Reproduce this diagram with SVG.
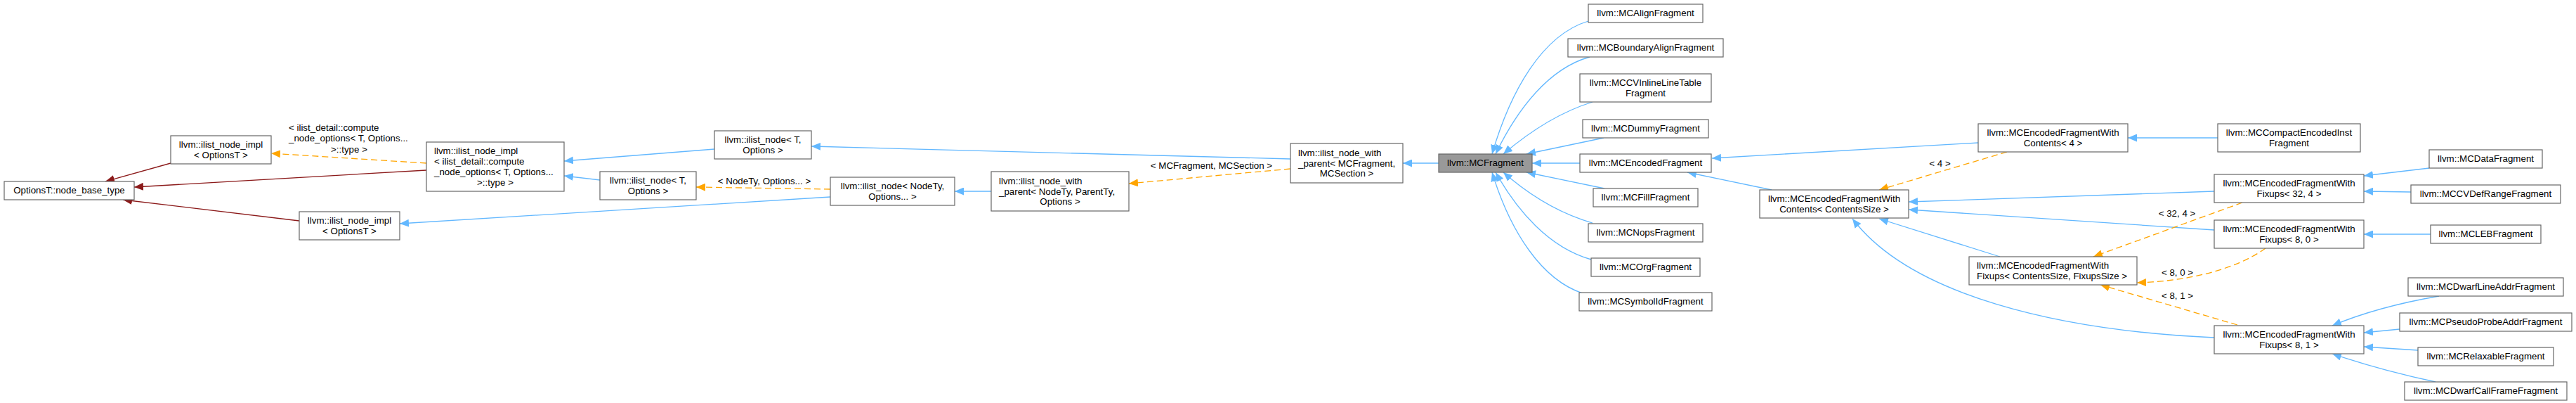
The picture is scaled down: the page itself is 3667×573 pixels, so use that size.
<svg xmlns="http://www.w3.org/2000/svg" width="3667" height="573" viewBox="0 0 3667 573">
<style>
  text { font-family: "Liberation Sans", Arial, Helvetica, sans-serif; font-size: 13.33px; fill: #000; }
  .c { text-anchor: middle; }
  .node rect { fill: #ffffff; stroke: #666666; stroke-width: 1.2; }
  .hl rect { fill: #999999; stroke: #666666; stroke-width: 1.2; }
  .e { fill: none; stroke-width: 1.3; }
  .pub { stroke: #63b8ff; marker-end: url(#mb); }
  .tpl { stroke: #ffa500; stroke-dasharray: 9,5; marker-end: url(#mo); }
  .prv { stroke: #8b1a1a; marker-end: url(#mr); }
</style>
<defs>
  <marker id="mb" viewBox="0 0 13 11" refX="13" refY="5.5" markerWidth="13" markerHeight="11" orient="auto" markerUnits="userSpaceOnUse"><path d="M0,0 L13,5.5 L0,11 z" fill="#63b8ff"/></marker>
  <marker id="mo" viewBox="0 0 13 11" refX="13" refY="5.5" markerWidth="13" markerHeight="11" orient="auto" markerUnits="userSpaceOnUse"><path d="M0,0 L13,5.5 L0,11 z" fill="#ffa500"/></marker>
  <marker id="mr" viewBox="0 0 13 11" refX="13" refY="5.5" markerWidth="13" markerHeight="11" orient="auto" markerUnits="userSpaceOnUse"><path d="M0,0 L13,5.5 L0,11 z" fill="#8b1a1a"/></marker>
</defs>
<rect x="0" y="0" width="3667" height="573" fill="#ffffff"/>

<g id="connectors">
  <path class="e prv" d="M243,232 L150,258"/>
  <path class="e prv" d="M607,242 L191,266"/>
  <path class="e prv" d="M426,314 L175,284"/>
  <path class="e tpl" d="M607,232 L386,218"/>
  <path class="e pub" d="M1017,212 L803,229"/>
  <path class="e pub" d="M854,256 L803,250"/>
  <path class="e tpl" d="M1182,269 L991,266"/>
  <path class="e pub" d="M1182,280 L569,318"/>
  <path class="e pub" d="M1411,272 L1359,272"/>
  <path class="e pub" d="M1837,226 L1155,208"/>
  <path class="e tpl" d="M1837,240 L1607,261"/>
  <path class="e pub" d="M2048,232 L1997,232"/>

  <path class="e pub" d="M2261,30 C2195,50 2150,130 2124,219"/>
  <path class="e pub" d="M2263,81 C2205,97 2160,155 2129,219"/>
  <path class="e pub" d="M2267,145 C2225,158 2180,185 2140,219"/>
  <path class="e pub" d="M2283,196 L2173,219"/>
  <path class="e pub" d="M2249,232 L2181,232"/>
  <path class="e pub" d="M2284,268 L2173,245"/>
  <path class="e pub" d="M2267,317 C2225,305 2180,280 2140,245"/>
  <path class="e pub" d="M2265,369 C2205,352 2160,300 2129,245"/>
  <path class="e pub" d="M2253,417 C2195,398 2150,330 2124,245"/>

  <path class="e pub" d="M2816,203 L2437,225"/>
  <path class="e pub" d="M2522,270 L2402,245"/>
  <path class="e pub" d="M3157,196 L3029,196"/>
  <path class="e tpl" d="M2857,216 L2675,270"/>
  <path class="e pub" d="M3152,272 L2717,287"/>
  <path class="e pub" d="M3152,327 L2717,298"/>
  <path class="e pub" d="M2847,365 L2675,311"/>
  <path class="e pub" d="M3152,480 C2930,470 2720,420 2637,311"/>
  <path class="e tpl" d="M3192,288 L2980,365"/>
  <path class="e tpl" d="M3225,353 C3180,385 3110,400 3042,402"/>
  <path class="e tpl" d="M3185,462 L2990,405"/>
  <path class="e pub" d="M3458,239 L3365,250"/>
  <path class="e pub" d="M3432,273 L3365,272"/>
  <path class="e pub" d="M3460,333 L3365,333"/>
  <path class="e pub" d="M3472,421 C3420,430 3370,442 3320,463"/>
  <path class="e pub" d="M3416,468 L3365,473"/>
  <path class="e pub" d="M3442,498 L3365,493"/>
  <path class="e pub" d="M3467,543 C3420,533 3370,520 3320,503"/>

  <text x="411" y="185.5">&lt; ilist_detail::compute</text>
  <text x="411" y="200.5">_node_options&lt; T, Options...</text>
  <text class="c" x="497" y="216.5">&gt;::type &gt;</text>
  <text class="c" x="1088" y="261.5">&lt; NodeTy, Options... &gt;</text>
  <text class="c" x="1724.5" y="239.5">&lt; MCFragment, MCSection &gt;</text>
  <text class="c" x="2761.5" y="236.5">&lt; 4 &gt;</text>
  <text class="c" x="3099" y="307.5">&lt; 32, 4 &gt;</text>
  <text class="c" x="3099.5" y="391.5">&lt; 8, 0 &gt;</text>
  <text class="c" x="3099.5" y="424.5">&lt; 8, 1 &gt;</text>
</g>

<g id="node_base" class="node"><rect x="6" y="258" width="185" height="26"/><text class="c" x="98.5" y="275">OptionsT::node_base_type</text></g>
<g id="node_impl_top" class="node"><rect x="243" y="193" width="143" height="40"/><text class="c" x="314.5" y="210">llvm::ilist_node_impl</text><text class="c" x="314.5" y="225">&lt; OptionsT &gt;</text></g>
<g id="node_impl_bottom" class="node"><rect x="426" y="301" width="143" height="40"/><text class="c" x="497.5" y="318">llvm::ilist_node_impl</text><text class="c" x="497.5" y="333">&lt; OptionsT &gt;</text></g>
<g id="node_impl_big" class="node"><rect x="607" y="202" width="196" height="70"/><text x="618" y="219">llvm::ilist_node_impl</text><text x="618" y="234">&lt; ilist_detail::compute</text><text x="618" y="249">_node_options&lt; T, Options...</text><text class="c" x="705" y="264">&gt;::type &gt;</text></g>
<g id="node_ilist_node_lower" class="node"><rect x="854" y="244" width="137" height="40"/><text class="c" x="922.5" y="261">llvm::ilist_node&lt; T,</text><text class="c" x="922.5" y="276">Options &gt;</text></g>
<g id="node_ilist_node_upper" class="node"><rect x="1017" y="186" width="138" height="40"/><text class="c" x="1086" y="203">llvm::ilist_node&lt; T,</text><text class="c" x="1086" y="218">Options &gt;</text></g>
<g id="node_ilist_node_nodety" class="node"><rect x="1182" y="252" width="177" height="40"/><text class="c" x="1270.5" y="269">llvm::ilist_node&lt; NodeTy,</text><text class="c" x="1270.5" y="284">Options... &gt;</text></g>
<g id="node_wp_nodety" class="node"><rect x="1411" y="244" width="196" height="56"/><text x="1422" y="262">llvm::ilist_node_with</text><text x="1422" y="276.5">_parent&lt; NodeTy, ParentTy,</text><text class="c" x="1509" y="291">Options &gt;</text></g>
<g id="node_wp_mcf" class="node"><rect x="1837" y="204" width="160" height="56"/><text x="1848" y="222">llvm::ilist_node_with</text><text x="1848" y="236.5">_parent&lt; MCFragment,</text><text class="c" x="1917" y="251">MCSection &gt;</text></g>
<g id="node_mcfragment" class="hl"><rect x="2048" y="219" width="133" height="26"/><text class="c" x="2114.5" y="236">llvm::MCFragment</text></g>

<g id="node_align" class="node"><rect x="2261" y="6" width="163" height="26"/><text class="c" x="2342.5" y="23">llvm::MCAlignFragment</text></g>
<g id="node_boundary" class="node"><rect x="2232" y="55" width="221" height="26"/><text class="c" x="2342.5" y="72">llvm::MCBoundaryAlignFragment</text></g>
<g id="node_cvinline" class="node"><rect x="2249" y="105" width="187" height="40"/><text class="c" x="2342.5" y="122">llvm::MCCVInlineLineTable</text><text class="c" x="2342.5" y="137">Fragment</text></g>
<g id="node_dummy" class="node"><rect x="2253" y="170" width="179" height="26"/><text class="c" x="2342.5" y="187">llvm::MCDummyFragment</text></g>
<g id="node_encoded" class="node"><rect x="2249" y="219" width="187" height="26"/><text class="c" x="2342.5" y="236">llvm::MCEncodedFragment</text></g>
<g id="node_fill" class="node"><rect x="2268" y="268" width="149" height="26"/><text class="c" x="2342.5" y="285">llvm::MCFillFragment</text></g>
<g id="node_nops" class="node"><rect x="2261" y="318" width="163" height="26"/><text class="c" x="2342.5" y="335">llvm::MCNopsFragment</text></g>
<g id="node_org" class="node"><rect x="2265" y="367" width="155" height="26"/><text class="c" x="2342.5" y="384">llvm::MCOrgFragment</text></g>
<g id="node_symbolid" class="node"><rect x="2248" y="416" width="189" height="26"/><text class="c" x="2342.5" y="433">llvm::MCSymbolIdFragment</text></g>

<g id="node_contents4" class="node"><rect x="2816" y="176" width="213" height="40"/><text class="c" x="2922.5" y="193">llvm::MCEncodedFragmentWith</text><text class="c" x="2922.5" y="208">Contents&lt; 4 &gt;</text></g>
<g id="node_contents_cs" class="node"><rect x="2505" y="270" width="212" height="40"/><text class="c" x="2611" y="287">llvm::MCEncodedFragmentWith</text><text class="c" x="2611" y="302">Contents&lt; ContentsSize &gt;</text></g>
<g id="node_fixups_csfs" class="node"><rect x="2803" y="365" width="239" height="40"/><text x="2814" y="382">llvm::MCEncodedFragmentWith</text><text x="2814" y="397">Fixups&lt; ContentsSize, FixupsSize &gt;</text></g>
<g id="node_compact" class="node"><rect x="3157" y="176" width="203" height="40"/><text class="c" x="3258.5" y="193">llvm::MCCompactEncodedInst</text><text class="c" x="3258.5" y="208">Fragment</text></g>
<g id="node_fixups32_4" class="node"><rect x="3152" y="248" width="213" height="40"/><text class="c" x="3258.5" y="265">llvm::MCEncodedFragmentWith</text><text class="c" x="3258.5" y="280">Fixups&lt; 32, 4 &gt;</text></g>
<g id="node_fixups8_0" class="node"><rect x="3152" y="313" width="213" height="40"/><text class="c" x="3258.5" y="330">llvm::MCEncodedFragmentWith</text><text class="c" x="3258.5" y="345">Fixups&lt; 8, 0 &gt;</text></g>
<g id="node_fixups8_1" class="node"><rect x="3152" y="463" width="213" height="40"/><text class="c" x="3258.5" y="480">llvm::MCEncodedFragmentWith</text><text class="c" x="3258.5" y="495">Fixups&lt; 8, 1 &gt;</text></g>
<g id="node_data" class="node"><rect x="3458" y="213" width="161" height="26"/><text class="c" x="3538.5" y="230">llvm::MCDataFragment</text></g>
<g id="node_cvdefrange" class="node"><rect x="3432" y="263" width="213" height="26"/><text class="c" x="3538.5" y="280">llvm::MCCVDefRangeFragment</text></g>
<g id="node_leb" class="node"><rect x="3460" y="320" width="157" height="26"/><text class="c" x="3538.5" y="337">llvm::MCLEBFragment</text></g>
<g id="node_dwarflineaddr" class="node"><rect x="3428" y="395" width="221" height="26"/><text class="c" x="3538.5" y="412">llvm::MCDwarfLineAddrFragment</text></g>
<g id="node_pseudoprobe" class="node"><rect x="3416" y="445" width="245" height="26"/><text class="c" x="3538.5" y="462">llvm::MCPseudoProbeAddrFragment</text></g>
<g id="node_relaxable" class="node"><rect x="3442" y="494" width="193" height="26"/><text class="c" x="3538.5" y="511">llvm::MCRelaxableFragment</text></g>
<g id="node_dwarfcallframe" class="node"><rect x="3423" y="543" width="231" height="26"/><text class="c" x="3538.5" y="560">llvm::MCDwarfCallFrameFragment</text></g>
</svg>
